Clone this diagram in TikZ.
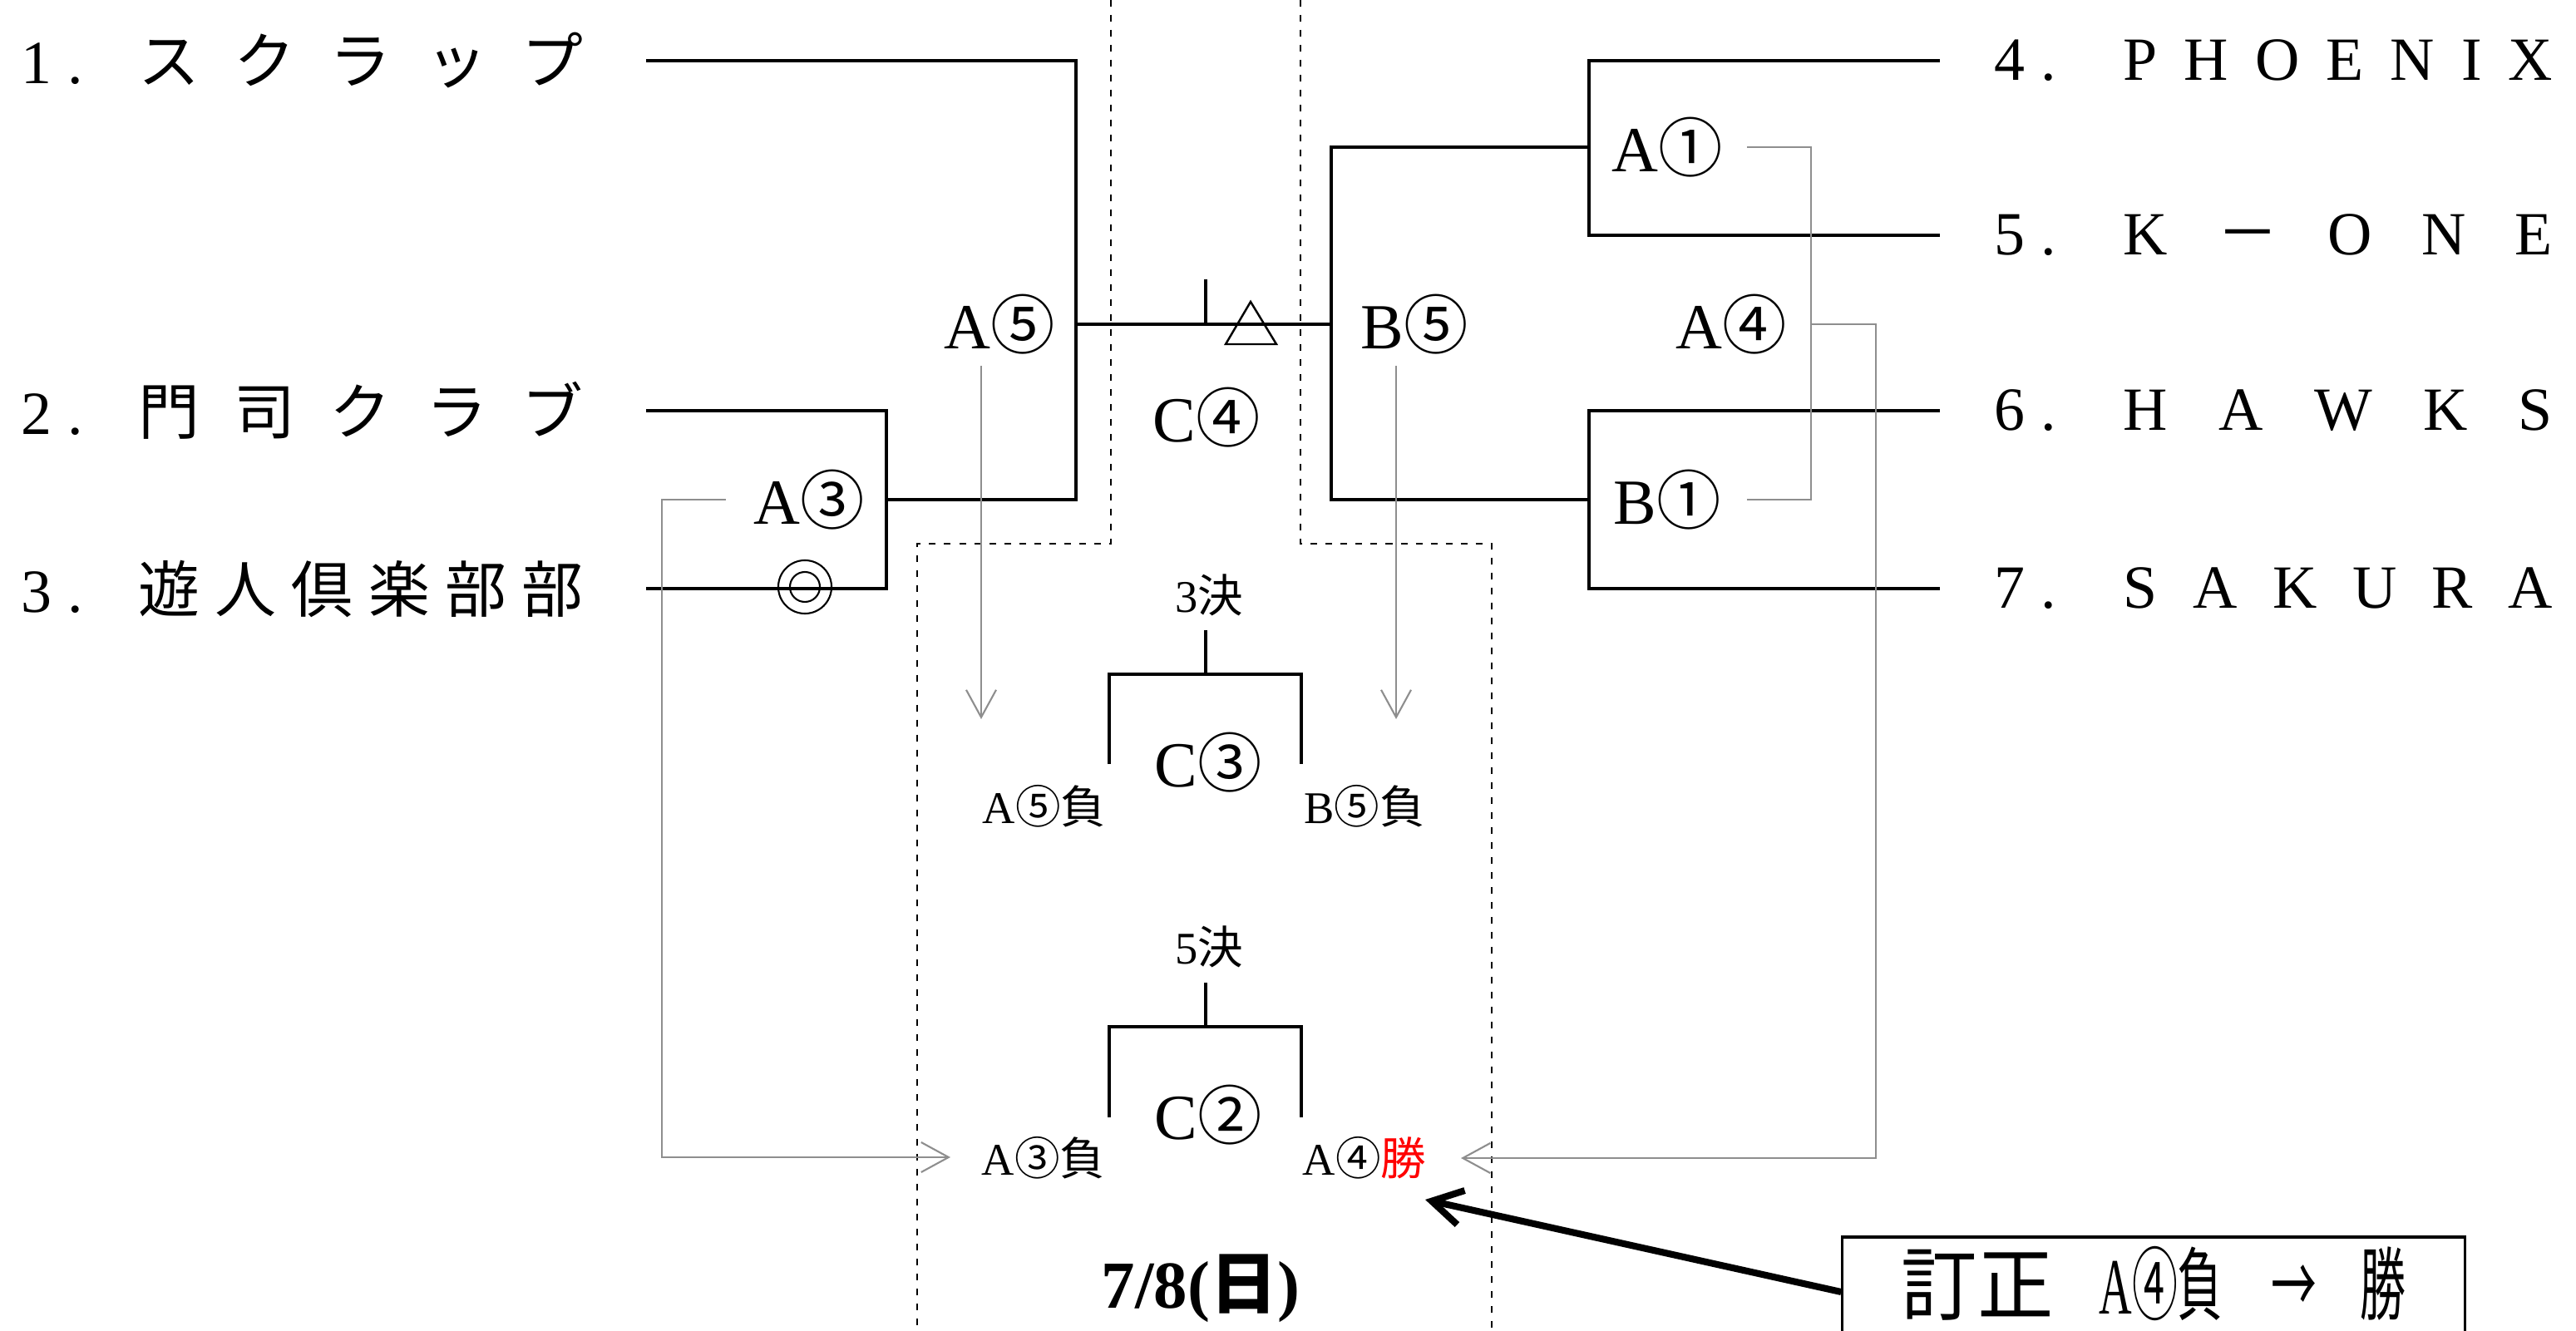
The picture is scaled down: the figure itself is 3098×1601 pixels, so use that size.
\documentclass[tikz,border=0pt]{standalone}
\usepackage{fontspec}
\setmainfont{Liberation Serif}
\newfontfamily\jfont{Noto Sans CJK JP}
\usetikzlibrary{arrows.meta}
\definecolor{bracketGuideGray}{HTML}{8E8E8E}
\definecolor{bracketWinRed}{HTML}{FF0000}
\newcommand{\leftteam}[2]{\makebox[1.41cm][l]{#1\hspace{0.25em}.}\makebox[5.34cm][s]{\jfont #2}}
\newcommand{\rightteam}[2]{\makebox[1.55cm][l]{#1\hspace{0.25em}.}\makebox[5.16cm][s]{#2}}
\newcommand{\matchno}[2]{#1{\jfont #2}}

\begin{document}
\begin{tikzpicture}[x=0.01cm, y=-0.01cm,
            team/.style={font=\fontsize{21pt}{25pt}\selectfont, inner sep=0pt, anchor=west},
            match/.style={font=\fontsize{22pt}{26pt}\selectfont, inner sep=0pt},
            slot/.style={font=\fontsize{15.5pt}{18pt}\selectfont, inner sep=0pt},
            bracketLine/.style={line width=0.9pt},
            guideLine/.style={draw=bracketGuideGray, line width=0.6pt},
            guideArrow/.style={guideLine, -{Straight Barb[length=3.3mm, width=3.6mm]}},
            noteArrow/.style={line width=2.3pt, -{Straight Barb[length=3.6mm, width=4.2mm]}},
            zoneLine/.style={line width=0.7pt, dash pattern=on 0.08cm off 0.1cm}]
            \useasboundingbox (0,0) rectangle (3098,1601);
            \clip (0,0) rectangle (3098,1601);

            \draw[zoneLine] (1336,0) |- (1103,654) -- (1103,1601);
            \draw[zoneLine] (1564,0) |- (1794,654) -- (1794,1601);

            \node[team] (teamOne) at (25,73) {\leftteam{1}{ス\hfill ク\hfill ラ\hfill ッ\hfill プ}};
            \node[team] (teamTwo) at (25,494) {\leftteam{2}{門\hfill 司\hfill ク\hfill ラ\hfill ブ}};
            \node[team] (teamThree) at (25,708) {\leftteam{3}{遊\hfill 人\hfill 倶\hfill 楽\hfill 部\hfill 部}};
            \node[team] (teamFour) at (2398,73) {\rightteam{4}{P\hfill H\hfill O\hfill E\hfill N\hfill I\hfill X}};
            \node[team] (teamFive) at (2398,283) {\rightteam{5}{K\hfill {\jfont －}\hfill O\hfill N\hfill E}};
            \node[team] (teamSix) at (2398,494) {\rightteam{6}{H\hfill A\hfill W\hfill K\hfill S}};
            \node[team] (teamSeven) at (2398,708) {\rightteam{7}{S\hfill A\hfill K\hfill U\hfill R\hfill A}};

            \coordinate (lineOne) at (777,73);
            \coordinate (lineTwo) at (777,494);
            \coordinate (lineThree) at (777,708);
            \coordinate (lineFour) at (2333,73);
            \coordinate (lineFive) at (2333,283);
            \coordinate (lineSix) at (2333,494);
            \coordinate (lineSeven) at (2333,708);
            \coordinate (jointAthree) at (1066,601);
            \coordinate (jointAfive) at (1294,390);
            \coordinate (jointAone) at (1911,177);
            \coordinate (jointBone) at (1911,601);
            \coordinate (jointBfive) at (1601,390);
            \coordinate (tickFoot) at (1450,390);
            \coordinate (markTriangle) at (1504,363);
            \coordinate (markDouble) at (968,706);

            \draw[bracketLine] (lineTwo) -| (jointAthree) |- (lineThree);
            \draw[bracketLine] (jointAthree) -| (jointAfive) |- (lineOne);
            \draw[bracketLine] (lineFour) -| (jointAone) |- (lineFive);
            \draw[bracketLine] (lineSix) -| (jointBone) |- (lineSeven);
            \draw[bracketLine] (jointAone) -| (jointBfive) |- (jointBone);
            \draw[bracketLine] (jointAfive) -- (jointBfive);
            \draw[bracketLine] (tickFoot) -- ++(0,-54);
            \draw[line width=0.7pt] (markTriangle) -- ++(31,51) -- ++(-61,0) -- cycle;
            \draw[line width=0.6pt] (markDouble) circle[radius=0.32cm] (markDouble) circle[radius=0.18cm];

            \node[match] (labelAthree) at (973,601) {\matchno{A}{③}};
            \node[match] (labelAfive) at (1202,390) {\matchno{A}{⑤}};
            \node[match] (labelBfive) at (1701,390) {\matchno{B}{⑤}};
            \node[match] (labelCfour) at (1451,502) {\matchno{C}{④}};
            \node[match] (labelAone) at (2005,177) {\matchno{A}{①}};
            \node[match] (labelBone) at (2005,601) {\matchno{B}{①}};
            \node[match] (labelAfour) at (2082,390) {\matchno{A}{④}};

            \coordinate (guideAthree) at (873,601);
            \coordinate (guideCorner) at (796,1392);
            \coordinate (tipAthree) at (1143,1392);
            \coordinate (guideAfive) at (1180,440);
            \coordinate (tipAfive) at (1180,865);
            \coordinate (guideBfive) at (1679,440);
            \coordinate (tipBfive) at (1679,865);
            \coordinate (guideAone) at (2101,177);
            \coordinate (guideBone) at (2101,601);
            \coordinate (guideAfour) at (2178,390);
            \coordinate (guideRight) at (2256,1393);
            \coordinate (tipAfour) at (1757,1393);

            \draw[guideArrow] (guideAthree) -| (guideCorner) -- (tipAthree);
            \draw[guideArrow] (guideAfive) -- (tipAfive);
            \draw[guideArrow] (guideBfive) -- (tipBfive);
            \draw[guideLine] (guideAone) -| (guideBone -| guideAfour) -- (guideBone);
            \draw[guideArrow] (guideAfour) -| (guideRight) -- (tipAfour);

            \coordinate (thirdStem) at (1450,758);
            \coordinate (thirdTop) at (1450,811);
            \coordinate (thirdLeft) at (1334,919);
            \coordinate (thirdRight) at (1565,919);
            \coordinate (fifthStem) at (1450,1182);
            \coordinate (fifthTop) at (1450,1235);
            \coordinate (fifthLeft) at (1334,1344);
            \coordinate (fifthRight) at (1565,1344);

            \draw[bracketLine] (thirdStem) -- (thirdTop);
            \draw[bracketLine] (thirdLeft) |- (thirdTop) -| (thirdRight);
            \draw[bracketLine] (fifthStem) -- (fifthTop);
            \draw[bracketLine] (fifthLeft) |- (fifthTop) -| (fifthRight);

            \node[slot] (titleThird) at (1454,716) {3{\jfont 決}};
            \node[slot] (titleFifth) at (1454,1139) {5{\jfont 決}};
            \node[match] (labelCthree) at (1453,917) {\matchno{C}{③}};
            \node[match] (labelCtwo) at (1453,1341) {\matchno{C}{②}};
            \node[slot] (slotAfive) at (1256,970) {A{\jfont ⑤負}};
            \node[slot] (slotBfive) at (1641,970) {B{\jfont ⑤負}};
            \node[slot] (slotAthree) at (1255,1393) {A{\jfont ③負}};
            \node[slot] (slotAfour) at (1641,1393) {A{\jfont ④}\textcolor{bracketWinRed}{\jfont 勝}};
            \node[font=\fontsize{23pt}{27pt}\selectfont\bfseries, inner sep=0pt] (dayLabel) at (1444,1550) {7/8({\jfont 日})};

            \node[draw, line width=0.9pt, inner sep=0pt, minimum width=7.48cm, text height=0.92cm, text depth=0.4cm,
                font=\fontsize{26pt}{30pt}\selectfont] (noteBox) at (2590,1554)
                {\scalebox{1}[1.05]{{\jfont 訂正}\hspace{0.6em}\scalebox{0.6}[1]{A{\jfont ④負}\hspace{1.05em}{\jfont →}\hspace{0.95em}{\jfont 勝}}}};
            \coordinate (tipNote) at (1714,1443);
            \draw[noteArrow] (noteBox.west) -- (tipNote);
        \end{tikzpicture}
\end{document}
